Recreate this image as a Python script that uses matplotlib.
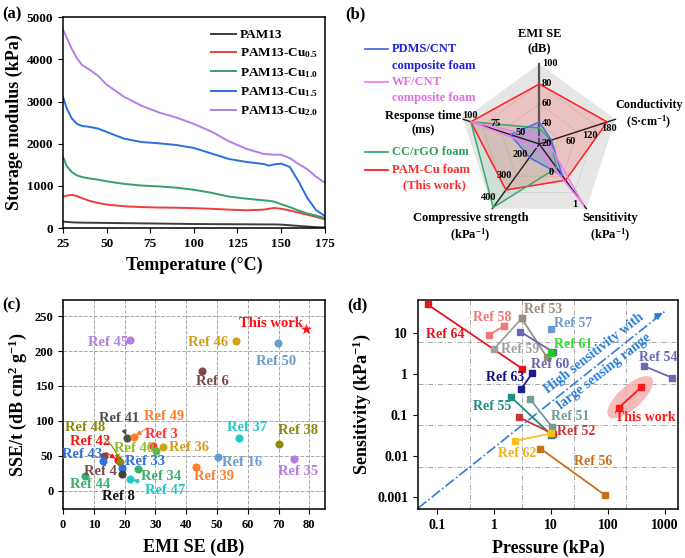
import numpy as np
import matplotlib.pyplot as plt
from matplotlib.patches import Polygon, Ellipse
from matplotlib.transforms import ScaledTranslation

plt.rcParams['font.family'] = ['Liberation Serif', 'DejaVu Serif']
plt.rcParams['font.weight'] = 'bold'
plt.rcParams['axes.labelweight'] = 'bold'
plt.rcParams['mathtext.fontset'] = 'custom'
plt.rcParams['mathtext.rm'] = 'Liberation Serif:bold'
plt.rcParams['mathtext.it'] = 'Liberation Serif:italic:bold'
plt.rcParams['mathtext.bf'] = 'Liberation Serif:bold'
plt.rcParams['mathtext.default'] = 'rm'
plt.rcParams['axes.linewidth'] = 1.1
plt.rcParams['xtick.major.size'] = 3.5
plt.rcParams['ytick.major.size'] = 3.5

# ---------------- (a) storage modulus ----------------
temperature = [25, 27, 30, 33, 36, 40, 45, 50, 60, 70, 80, 90, 100, 110, 120,
               130, 140, 143, 146, 150, 155, 160, 165, 170, 175]
mod_pam13 = [160, 150, 140, 135, 132, 130, 128, 125, 120, 115, 110, 105, 100, 97, 95,
             93, 90, 90, 90, 85, 70, 55, 40, 25, 15]
mod_cu05 = [750, 770, 790, 760, 710, 650, 600, 560, 520, 500, 490, 485, 475, 460, 440,
            425, 440, 460, 480, 460, 420, 370, 320, 270, 210]
mod_cu10 = [1690, 1480, 1330, 1250, 1210, 1180, 1150, 1110, 1050, 1010, 990, 960, 910, 840, 750,
            700, 660, 650, 630, 570, 500, 420, 350, 300, 240]
mod_cu15 = [3110, 2850, 2600, 2470, 2420, 2400, 2360, 2280, 2120, 2040, 2010, 1970, 1900, 1770, 1640,
            1570, 1520, 1480, 1510, 1530, 1450, 1110, 720, 430, 290]
mod_cu20 = [4700, 4520, 4250, 4020, 3860, 3760, 3610, 3400, 3110, 2900, 2740, 2620, 2470, 2290, 2060,
            1880, 1760, 1750, 1740, 1740, 1660, 1520, 1400, 1220, 1080]
labels_a = ['PAM13', 'PAM13-Cu$_{0.5}$', 'PAM13-Cu$_{1.0}$', 'PAM13-Cu$_{1.5}$', 'PAM13-Cu$_{2.0}$']
colors_a = ['#3d3d3d', '#f03c3c', '#35a06a', '#2b6fdc', '#b47ee6']

# ---------------- (b) radar ----------------
radar_axes = ['EMI SE\n(dB)', 'Conductivity\n(S·cm$^{-1}$)', 'Sensitivity\n(kPa$^{-1}$)',
              'Compressive strength\n(kPa$^{-1}$)', 'Response time\n(ms)']
radar_lo = [20, -60, -1, 100, 25]
radar_hi = [100, 180, 1, 400, 100]
radar_ticks = [[20, 40, 60, 80, 100], [60, 120, 180], [0, 1], [200, 300, 400], [50, 75, 100]]
pdms_cnt = [42, -22, -0.02, 163, 53.5]
wf_cnt = [27, -34, 0.9, 115, 92.5]
cc_rgo = [36, -24, -0.26, 394, 92.5]
pam_cu = [80, 154, 0.12, 313, 92.5]
radar_names = [['PDMS/CNT', 'composite foam'], ['WF/CNT', 'composite foam'],
               ['CC/rGO foam'], ['PAM-Cu foam', '(This work)']]

# ---------------- (c) SSE/t vs EMI SE ----------------
names_c = ['This work', 'Ref 45', 'Ref 46', 'Ref 50', 'Ref 6', 'Ref 41', 'Ref 49', 'Ref 3',
           'Ref 36', 'Ref 40', 'Ref 37', 'Ref 38', 'Ref 35', 'Ref 16', 'Ref 39', 'Ref 42',
           'Ref 48', 'Ref 4', 'Ref 43', 'Ref 33', 'Ref 8', 'Ref 34', 'Ref 47', 'Ref 44']
emi_c = [79, 21.9, 56.2, 69.9, 45.3, 20.9, 23.0, 29.3, 32.6, 30.3, 57.1, 70.1, 75.1, 50.3, 43.3,
         17.8, 18.5, 13.3, 13.1, 19.2, 19.2, 24.3, 21.9, 7.3]
sse_c = [232, 216, 215, 211, 172, 76, 77, 64, 63, 57, 76, 67, 46, 48, 34,
         44, 41, 50, 43, 32, 24, 31, 17, 21]
colors_c = ['#ff1010', '#b47ee0', '#d4a017', '#6b9bd1', '#7b4a4a', '#505050', '#ff7f2a', '#ff3838',
            '#d4a017', '#5cb84c', '#20c8c8', '#8a8a10', '#b47ee0', '#6b9bd1', '#ff7f2a', '#ff1010',
            '#8a8a10', '#7b4a4a', '#2f6fe0', '#2f6fe0', '#404040', '#3cae6e', '#20c8c8', '#3cae6e']

# ---------------- (d) sensitivity vs pressure ----------------
names_d = ['Ref 64', 'Ref 58', 'Ref 59', 'Ref 53', 'Ref 60', 'Ref 63', 'Ref 55', 'Ref 51',
           'Ref 52', 'Ref 62', 'Ref 56', 'Ref 54', 'This work']
p_lo = [0.068, 0.8, 1.0, 3.05, 2.9, 3.0, 2.0, 4.2, 2.7, 2.3, 6.5, 430, 155]
p_hi = [3.1, 1.5, 3.05, 8.4, 11, 4.7, 10, 10.5, 11, 10, 88, 1350, 380]
s_lo = [50, 8.9, 4.1, 22.6, 10.7, 0.43, 0.27, 0.25, 0.088, 0.023, 0.015, 1.55, 0.15]
s_hi = [1.35, 14.7, 22.6, 2.6, 3.4, 1.05, 0.033, 0.05, 0.034, 0.035, 0.0011, 0.8, 0.47]
colors_d = ['#e8141c', '#f07878', '#a0a0a0', '#9c8c7c', '#6a62b8', '#1c1c8c', '#1a9080', '#6e9e9a',
            '#c83838', '#f8c020', '#c87018', '#6a6ab4', '#ff1a1a']
single_names = ['Ref 57', 'Ref 61']
single_p = [10, 10]
single_s = [12.6, 3.3]
single_colors = ['#6b9bd1', '#22cc22']

fig = plt.figure(figsize=(6.85, 5.58), dpi=100)

# ===== (a) =====
ax = fig.add_axes([0.092, 0.591, 0.382, 0.3785])
for vals, lab, c in zip([mod_pam13, mod_cu05, mod_cu10, mod_cu15, mod_cu20], labels_a, colors_a):
    ax.plot(temperature, vals, color=c, lw=1.4, label=lab)
ax.set_xlim(25, 175)
ax.set_ylim(0, 5000)
ax.set_xticks([25, 50, 75, 100, 125, 150, 175])
ax.set_yticks([0, 1000, 2000, 3000, 4000, 5000])
ax.tick_params(labelsize=9.5)
ax.set_xlabel('Temperature (°C)', fontsize=13, labelpad=5)
ax.set_ylabel('Storage modulus (kPa)', fontsize=13, labelpad=3)
ax.legend(loc='upper right', bbox_to_anchor=(1.02, 1.0), frameon=False, fontsize=9.5,
          handlelength=1.9, labelspacing=0.42, handletextpad=0.3)
fig.text(0.003, 0.975, '(a)', fontsize=12, va='center')

# ===== (b) =====
axb = fig.add_axes([340 / 685, 1 - 280 / 558, 345 / 685, 280 / 558])
axb.set_xlim(-2.49, 1.82)
axb.set_ylim(-1.70, 1.80)
axb.axis('off')
ang = np.deg2rad([90, 18, -54, -126, 162])
ux, uy = np.cos(ang), np.sin(ang)
lo = np.array(radar_lo, float)
hi = np.array(radar_hi, float)
axb.add_patch(Polygon(np.c_[ux, uy], closed=True, fc='#e6e6e6', ec='none', zorder=0))
for f in (0.25, 0.5, 0.75):
    axb.add_patch(Polygon(np.c_[f * ux, f * uy], closed=True, fill=False, ec='#d2d2d2', lw=0.6, zorder=1))

series_b = [pam_cu, cc_rgo, pdms_cnt, wf_cnt]
line_cols = ['#ff2020', '#3aa870', '#4a6ee0', '#ee80ee']
fill_alpha = [0.18, 0.12, 0.28, 0.15]
for vals, c, fa in zip(series_b, line_cols, fill_alpha):
    r = (np.array(vals) - lo) / (hi - lo)
    xy = np.c_[r * ux, r * uy]
    axb.add_patch(Polygon(xy, closed=True, fc=c, alpha=fa, ec='none', zorder=2))
    axb.add_patch(Polygon(xy, closed=True, fill=False, ec=c, lw=1.1, zorder=4))
for i in range(5):
    axb.plot([0, ux[i]], [0, uy[i]], color='#555555' if i == 0 else '#2a1a1a',
             lw=1.6 if i == 0 else 1.0, zorder=3)

tick_off = [(0.03, 0.0, 'left'), (-0.08, -0.12, 'center'), (-0.15, 0.05, 'center'),
            (-0.04, 0.14, 'center'), (0.09, 0.045, 'center')]
for i in range(5):
    dx, dy, ha = tick_off[i]
    for t in radar_ticks[i]:
        f = (t - lo[i]) / (hi[i] - lo[i])
        axb.text(f * ux[i] + dx, f * uy[i] + dy, str(t), fontsize=7.5, ha=ha, va='center', zorder=5)

label_pos = [(0.0, 1.29), (1.37, 0.36), (0.89, -1.045), (-0.86, -1.045), (-1.45, 0.265)]
label_fs = [9, 8.7, 9, 9, 9]
for txt, (x, y), fs in zip(radar_axes, label_pos, label_fs):
    axb.text(x, y, txt, fontsize=fs, ha='center', va='center', linespacing=1.25)

text_cols = ['#1f1fe0', '#e070e0', '#2ea060', '#ff2a2a']
leg_cols = ['#4a6ee0', '#ee80ee', '#3aa870', '#ff2020']
leg_y = [1.19, 0.78, -0.10, -0.32]
for lines, tc, lc, y in zip(radar_names, text_cols, leg_cols, leg_y):
    axb.plot([-2.18, -1.89], [y, y], color=lc, lw=1.3)
    for k, s in enumerate(lines):
        if s == '(This work)':
            axb.text(-1.31, y - 0.2 * k, s, color=tc, fontsize=9, ha='center', va='center')
        else:
            axb.text(-1.84, y - 0.21 * k, s, color=tc, fontsize=9, ha='left', va='center')
fig.text(0.504, 0.975, '(b)', fontsize=12, va='center')

# ===== (c) =====
axc = fig.add_axes([0.092, 0.0878, 0.382, 0.3746])
axc.set_axisbelow(True)
axc.grid(True, ls='--', color='#a8a8a8', lw=0.7)
for n, x, y, c in zip(names_c, emi_c, sse_c, colors_c):
    if n == 'This work':
        axc.scatter(x, y, marker='*', s=70, color=c, zorder=3, lw=0)
    else:
        axc.scatter(x, y, s=34, color=c, zorder=3, lw=0)

label_c = {'This work': (67.7, 240), 'Ref 45': (14.5, 212), 'Ref 46': (47.1, 212), 'Ref 50': (69.2, 185),
           'Ref 6': (48.6, 156), 'Ref 41': (18.1, 104), 'Ref 49': (32.8, 106), 'Ref 3': (31.9, 81),
           'Ref 36': (40.9, 62), 'Ref 37': (59.7, 91), 'Ref 38': (76.2, 86), 'Ref 48': (7.3, 91),
           'Ref 42': (8.7, 70), 'Ref 40': (23.0, 60), 'Ref 43': (6.2, 52), 'Ref 33': (26.5, 42),
           'Ref 16': (58.1, 41), 'Ref 35': (76.5, 28), 'Ref 4': (12.2, 28), 'Ref 34': (31.7, 20),
           'Ref 39': (49.1, 20), 'Ref 44': (8.9, 9), 'Ref 47': (33.3, 1), 'Ref 8': (18.1, -8)}
label_col_c = {'Ref 40': '#8cbf26', 'Ref 8': '#111111'}
arrows_c = {'Ref 41': 0.0, 'Ref 49': 0.0, 'Ref 48': -0.25, 'Ref 42': 0.0, 'Ref 47': 0.0}
for n, x, y, c in zip(names_c, emi_c, sse_c, colors_c):
    tc = label_col_c.get(n, c)
    if n in arrows_c:
        axc.annotate(n, xy=(x, y), xytext=label_c[n], color=tc, fontsize=10.5, ha='center', va='center',
                     arrowprops=dict(arrowstyle='-|>', color=c, lw=0.8, mutation_scale=7,
                                     shrinkB=2, connectionstyle='arc3,rad=%g' % arrows_c[n]), zorder=4)
    else:
        axc.text(*label_c[n], n, color=tc, fontsize=10.5, ha='center', va='center', zorder=4)
axc.set_xlim(0, 85)
axc.set_ylim(-26, 273)
axc.set_xticks(range(0, 81, 10))
axc.set_yticks(range(0, 251, 50))
axc.tick_params(labelsize=9)
axc.set_xlabel('EMI SE (dB)', fontsize=13, labelpad=6)
axc.set_ylabel('SSE/t (dB cm$^{2}$ g$^{-1}$)', fontsize=13, labelpad=4)
fig.text(0.004, 0.453, '(c)', fontsize=12, va='center')

# ===== (d) =====
axd = fig.add_axes([0.610, 0.0878, 0.380, 0.3746])
axd.set_xscale('log')
axd.set_yscale('log')
axd.set_xlim(0.046, 1700)
axd.set_ylim(5e-4, 64)
for f in (0.2, 0.4, 0.6, 0.8):
    axd.plot([f, f], [0, 1], transform=axd.transAxes, color='#a8a8a8', lw=0.7, ls=(0, (5, 2, 1, 2)), zorder=0)
    axd.plot([0, 1], [f, f], transform=axd.transAxes, color='#a8a8a8', lw=0.7, ls=(0, (5, 2, 1, 2)), zorder=0)

ell = Ellipse((0, 0), 0.58, 0.23, angle=42, fc='#f7b0b0', ec='none', alpha=0.85, zorder=1,
              transform=fig.dpi_scale_trans + ScaledTranslation(245, 0.27, axd.transData))
axd.add_patch(ell)

axd.plot([0.046, 1000], [5.2e-4, 34], color='#2a7fd8', lw=1.2, ls='-.', zorder=2)
axd.annotate('', xy=(1000, 34), xytext=(600, 22),
             arrowprops=dict(arrowstyle='-|>', color='#2a7fd8', lw=1.2, mutation_scale=10))
axd.text(57, 3.15, 'High sensitivity with', color='#2a7fd8', fontsize=10, rotation=38,
         ha='center', va='center', rotation_mode='anchor')
axd.text(85, 1.16, 'large sensing range', color='#2a7fd8', fontsize=10, rotation=38,
         ha='center', va='center', rotation_mode='anchor')

for n, a, b, s1, s2, c in zip(names_d, p_lo, p_hi, s_lo, s_hi, colors_d):
    axd.plot([a, b], [s1, s2], color=c, lw=1.3, marker='s', ms=4, zorder=3)
for n, a, s, c in zip(single_names, single_p, single_s, single_colors):
    axd.plot(a, s, color=c, marker='s', ms=4, ls='none', zorder=3)

label_d = {'Ref 64': (0.138, 9.2), 'Ref 58': (0.91, 23.5), 'Ref 53': (7.3, 37.6), 'Ref 57': (24.7, 16.8),
           'Ref 59': (2.86, 3.9), 'Ref 61': (24.7, 5.2), 'Ref 60': (9.6, 1.7), 'Ref 54': (765, 2.46),
           'Ref 63': (1.56, 0.8), 'Ref 55': (0.91, 0.16), 'Ref 51': (21.5, 0.092), 'Ref 52': (28, 0.039),
           'Ref 62': (2.5, 0.0116), 'Ref 56': (55, 0.0073), 'This work': (447, 0.084)}
label_col_d = {'Ref 61': '#33dd33', 'Ref 62': '#f0b020', 'Ref 63': '#101080'}
for n, c in list(zip(names_d, colors_d)) + list(zip(single_names, single_colors)):
    axd.text(*label_d[n], n, color=label_col_d.get(n, c), fontsize=10, ha='center', va='center', zorder=4)

axd.set_xticks([0.1, 1, 10, 100, 1000])
axd.set_xticklabels(['0.1', '1', '10', '100', '1000'])
axd.set_yticks([0.001, 0.01, 0.1, 1, 10])
axd.set_yticklabels(['0.001', '0.01', '0.1', '1', '10'])
axd.minorticks_off()
axd.tick_params(labelsize=10)
axd.set_xlabel('Pressure (kPa)', fontsize=13, labelpad=6)
axd.set_ylabel('Sensitivity (kPa$^{-1}$)', fontsize=13, labelpad=3)
fig.text(0.507, 0.453, '(d)', fontsize=12, va='center')

fig.savefig('out.png', dpi=100)
